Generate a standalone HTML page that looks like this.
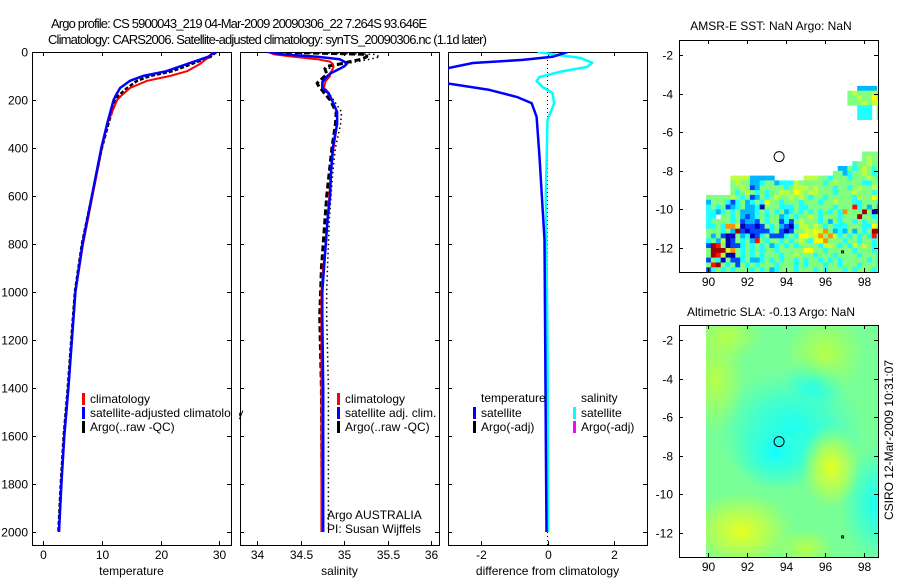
<!DOCTYPE html>
<html><head><meta charset="utf-8"><style>
html,body{margin:0;padding:0;background:#fff;}
svg{display:block;font-family:"Liberation Sans",sans-serif;}
text{font-size:12px;fill:#000;}
</style></head><body>
<svg id="fig" width="900" height="580" viewBox="0 0 900 580" xmlns="http://www.w3.org/2000/svg">
<defs>
<clipPath id="c1"><rect x="32" y="52" width="199" height="493"/></clipPath>
<clipPath id="c2"><rect x="240" y="52" width="199" height="493"/></clipPath>
<clipPath id="c3"><rect x="448" y="52" width="199" height="493"/></clipPath>
<clipPath id="cm1"><rect x="679" y="40" width="199" height="232"/></clipPath>
<clipPath id="cm2"><rect x="706" y="325" width="172" height="232"/></clipPath>
<radialGradient id="gCy"><stop offset="0" stop-color="#10ffff"/><stop offset="0.5" stop-color="#30ffe0" stop-opacity="0.7"/><stop offset="1" stop-color="#40ffd0" stop-opacity="0"/></radialGradient>
<radialGradient id="gYe"><stop offset="0" stop-color="#e8ff20"/><stop offset="0.5" stop-color="#c8ff40" stop-opacity="0.7"/><stop offset="1" stop-color="#b0ff50" stop-opacity="0"/></radialGradient>
<radialGradient id="gYg"><stop offset="0" stop-color="#b8ff48"/><stop offset="1" stop-color="#b0ff50" stop-opacity="0"/></radialGradient>
</defs>
<text x="51" y="28" textLength="376" style="font-size:13px">Argo profile: CS 5900043_219 04-Mar-2009 20090306_22 7.264S 93.646E</text>
<text x="48" y="44" textLength="439" style="font-size:13px">Climatology: CARS2006. Satellite-adjusted climatology: synTS_20090306.nc (1.1d later)</text>
<text x="771" y="30" text-anchor="middle">AMSR-E SST: NaN Argo: NaN</text>
<text x="771" y="316" text-anchor="middle">Altimetric SLA: -0.13 Argo: NaN</text>
<text transform="translate(893,440) rotate(-90)" text-anchor="middle">CSIRO 12-Mar-2009 10:31:07</text>
<g id="layer"></g>
</svg>
<script>
// ---------- data ----------
const depthTicks = [0,200,400,600,800,1000,1200,1400,1600,1800,2000];
const tempTicks = [0,10,20,30];
const salTicks = [34,34.5,35,35.5,36];
const diffTicks = [-2,0,2];
const lonTicks = [90,92,94,96,98];
const latTicks = [-2,-4,-6,-8,-10,-12];

const depthT = [0,20,50,80,100,120,150,180,200,300,400,600,800,1000,1200,1400,1600,1800,2000];
const tempClim = [28.8,28.3,26.7,24.5,21.6,17.7,14.8,13.4,12.6,10.9,10.0,8.4,6.8,5.5,4.9,4.3,3.6,3.1,2.7];
const tempSat = [29.3,28.1,24.5,21,17,14.8,13.1,12.4,12,10.9,9.9,8.3,6.7,5.5,4.9,4.3,3.6,3.1,2.7];
const tempArgo = [29.5,28.5,25.3,22,18.2,16,14.3,12.9,12.3,11.1,10.0,8.3,6.6,5.4,4.8,4.2,3.5,3.0,2.6];

const depthS = [0,10,20,30,40,50,60,70,90,100,120,130,150,160,170,200,250,300,400,500,600,700,800,900,1000,1100,1400,2000];
const salClim = [34.13,34.2,34.42,34.69,34.84,34.87,34.88,34.87,34.84,34.84,34.79,34.78,34.77,34.8,34.81,34.86,34.92,34.92,34.88,34.85,34.83,34.81,34.79,34.76,34.74,34.74,34.74,34.74];
const salSat = [34.13,34.3,34.69,34.95,35.0,35.03,35.0,34.95,34.84,34.81,34.76,34.75,34.75,34.78,34.82,34.86,34.92,34.92,34.87,34.85,34.84,34.81,34.79,34.77,34.75,34.75,34.76,34.76];
const salArgo = [34.23,35.26,35.26,35.2,35.07,34.95,34.8,34.78,34.8,34.78,34.72,34.69,34.72,34.75,34.77,34.84,34.91,34.9,34.86,34.83,34.8,34.78,34.76,34.74,34.73,34.72,34.74,34.75];
const salArgoRaw = [34.3,35.35,35.41,35.3,35.15,35.0,34.85,34.83,34.85,34.82,34.76,34.73,34.77,34.8,34.82,34.88,34.97,34.96,34.9,34.87,34.85,34.83,34.82,34.81,34.8,34.8,34.82,34.82];

const depthDT = [0,20,33,46,70,100,130,158,187,213,270,437,783,1200,1600,2000];
const diffTemp = [0.6,0.15,-0.75,-2.25,-3.1,-4.5,-3.05,-1.75,-0.93,-0.48,-0.33,-0.24,-0.09,-0.07,-0.05,-0.03];
const depthDS = [0,8,25,45,62,83,104,121,146,171,213,242,283,600,1200,2000];
const diffSal = [-0.3,0.1,1.0,1.35,1.2,0.36,-0.24,-0.33,-0.15,0.15,0.2,0.12,0.0,-0.05,0.0,0.02];

const sstRows = [
"                                gggg",
"                                gYgg",
"                              tggYgg",
"                           llgcgYgtg",
"                          gglcggYgcg",
"     YYYYlllll      YYYggcgggcgggYgc",
"     gYggllcgglcccYgggggcgYgggggccgg",
"     ggYgblgggggcgYYYgYgggcggcgYggYg",
"     gcgYgcgcggYYgyYgYYgggcgggYgggcg",
"gggggYgcgblgcgYggYgYgcggcgggggcYggyg",
"lgggcbcglcgcyggcgggcgggcggYgggccgggc",
"cgcgblcgllcngggcccgccgggggcgggrcglgl",
"cclcgcglllcgcgcglcgcgcgcgcgcogggdgnd",
"cc ggcglblcgcgglcgcggYgcgggcgggdggcg",
"cggggcgbllbgcggbcbgYgggcglgcggcgcggc",
"ccgcooYnbbnbgcglbncYYgYgcgcccgggccyc",
"gggcgldbnbbbbcgbnbggYYyYoglclglgcgdd",
"glgbnnglcnbcgbbbcgcyyYYogoYcgcgcgcrc",
"cglYnbgcglrgcggcgcgYgcyyogggcggcggcg",
"bdrgnbbcgcgcglcgcgcggggcYYgcgcYgYgcg",
"gdddYogcgcgcggcgggggyyggcgggggcgggcg",
"gdrYnngcgcgcgggcggYgggcgggcggggcgggc",
"bgcngbbcgllcgcgcggcgcggcgcgcgggggcgc",
"grdgcgbgcgcgggcgggcgcgggcggcgggcgggc",
"bcgcgcgggcgcglcgggcgggcgcgggcgcgggcg"];
const sstPatch = ["  llll ","gYgggYg","ggYggyg","gggYgYy","  ccc g","  ccc g","  ccc g"];
const palette = {g:"#80ff80",Y:"#c0ff40",y:"#ffff00",c:"#20ffff",t:"#40ffc0",l:"#00b8ff",b:"#0048ff",n:"#0000b0",o:"#ff9000",r:"#ff1000",d:"#a00000"};

// ---------- helpers ----------
const NS = "http://www.w3.org/2000/svg";
const layer = document.getElementById('layer');
function el(tag, attrs, parent){
  const e = document.createElementNS(NS, tag);
  for (const k in attrs) e.setAttribute(k, attrs[k]);
  (parent||layer).appendChild(e);
  return e;
}
function lin(d0,d1,r0,r1){ return v => r0 + (v-d0)*(r1-r0)/(d1-d0); }
const yDepth = lin(0,2000,52,532);

function panel(x0, name, xr, xTicks, xFmt, xlabel, showY){
  const w=199, top=52, bot=545;
  const xs = lin(xr[0], xr[1], x0, x0+w);
  const g = el('g', {});
  
  
  const fr = el('rect', {x:x0+0.5, y:top+0.5, width:w, height:bot-top, fill:'none', stroke:'#000', 'stroke-width':1}, g);
  
  
  xTicks.forEach(t => {
    const x = Math.round(xs(t))+0.5;
    el('line',{x1:x,x2:x,y1:bot,y2:bot-4,stroke:'#000'},g);
    el('line',{x1:x,x2:x,y1:top,y2:top+4,stroke:'#000'},g);
    const tl = el('text',{x:x,y:bot+14,'text-anchor':'middle'},g);
    tl.textContent = xFmt(t);
    
    
  });
  depthTicks.forEach(t => {
    const y = Math.round(yDepth(t))+0.5;
    el('line',{x1:x0,x2:x0+4,y1:y,y2:y,stroke:'#000'},g);
    el('line',{x1:x0+w,x2:x0+w-4,y1:y,y2:y,stroke:'#000'},g);
    if (showY){
      const tl = el('text',{x:x0-4,y:y+4,'text-anchor':'end'},g);
      tl.textContent = t;
      
      
    }
  });
  const xl = el('text',{x:x0+w/2,y:575,'text-anchor':'middle'},g);
  xl.textContent = xlabel;
  
  
  return xs;
}
function series(xs, depths, vals, clip, color, width, dash, name){
  const pts = depths.map((d,i)=> xs(vals[i]).toFixed(1)+','+yDepth(d).toFixed(1)).join(' ');
  const p = el('polyline',{points:pts, fill:'none', stroke:color, 'stroke-width':width, 'clip-path':'url(#'+clip+')', 'stroke-linejoin':'round'});
  if (dash) p.setAttribute('stroke-dasharray', dash);
  
  
}
function legendItem(x, y, color, label, name){
  const m = el('rect',{x:x, y:y-10, width:3, height:12, fill:color});
  
  
  if (label!==null){
    const t = el('text',{x:x+8, y:y});
    t.textContent = label;
    
    
  }
}
function txt(x,y,s,name){
  const t = el('text',{x:x,y:y});
  t.textContent = s;
  
  
}

// ---------- panel 1: temperature ----------
const xT = panel(32, 'temperature-panel', [-1.9,32], tempTicks, t=>t, 'temperature', true);
series(xT, depthT, tempArgo, 'c1', '#000', 2.5, '4,2', 'temp-argo-line');
series(xT, depthT, tempClim, 'c1', '#ff0000', 2, null, 'temp-climatology-line');
series(xT, depthT, tempSat, 'c1', '#0000ff', 2.5, null, 'temp-satellite-line');
legendItem(82, 403, '#ff0000', 'climatology', 'legend-climatology');
legendItem(82, 417, '#0000ff', 'satellite-adjusted climatology', 'legend-satellite-adjusted');
legendItem(82, 431, '#000000', 'Argo(..raw -QC)', 'legend-argo');
el('rect',{x:232,y:405,width:7,height:16,fill:'#fff'});

// ---------- panel 2: salinity ----------
const xS = panel(240, 'salinity-panel', [33.805,36.09], salTicks, t=>t, 'salinity', false);
series(xS, depthS, salArgoRaw, 'c2', '#000', 1.5, '1.5,3', 'sal-argo-raw-line');
series(xS, depthS, salArgo, 'c2', '#000', 3, '6,3', 'sal-argo-qc-line');
series(xS, depthS, salClim, 'c2', '#ff0000', 2, null, 'sal-climatology-line');
series(xS, depthS, salSat, 'c2', '#0000ff', 2.5, null, 'sal-satellite-line');
legendItem(337, 403, '#ff0000', 'climatology', 'legend-sal-climatology');
legendItem(337, 417, '#0000ff', 'satellite adj. clim.', 'legend-sal-satellite');
legendItem(337, 431, '#000000', 'Argo(..raw -QC)', 'legend-sal-argo');
txt(327, 519, 'Argo AUSTRALIA', 'argo-country-label');
txt(327, 533, 'PI: Susan Wijffels', 'pi-label');

// ---------- panel 3: difference ----------
const xD = panel(448, 'difference-panel', [-3,3], diffTicks, t=>t, 'difference from climatology', false);
const zl = el('line',{x1:xD(0),x2:xD(0),y1:52,y2:545,stroke:'#000','stroke-dasharray':'1,3'});


series(xD, depthDS, diffSal, 'c3', '#00ffff', 2.5, null, 'salinity-difference-line');
series(xD, depthDT, diffTemp, 'c3', '#0000ff', 2.5, null, 'temperature-difference-line');
txt(481, 402, 'temperature', 'legend-temperature-heading');
txt(581, 402, 'salinity', 'legend-salinity-heading');
legendItem(473, 417, '#0000ff', 'satellite', 'legend-temp-satellite');
legendItem(473, 431, '#000000', 'Argo(-adj)', 'legend-temp-argo');
legendItem(573, 417, '#00ffff', 'satellite', 'legend-sal-sat');
legendItem(573, 431, '#ff00ff', 'Argo(-adj)', 'legend-sal-argo-adj');

// ---------- maps ----------
function mapAxes(top, name){
  const left=679, w=199, h=232;
  const xs = lin(90,98,708,864);
  const ys = lin(-2,-12,top+15,top+208);
  const g = el('g',{});
  
  
  lonTicks.forEach(t=>{
    const x = Math.round(xs(t))+0.5;
    el('line',{x1:x,x2:x,y1:top+h,y2:top+h-4,stroke:'#000'},g);
    el('line',{x1:x,x2:x,y1:top,y2:top+4,stroke:'#000'},g);
    const tl = el('text',{x:x,y:top+h+14,'text-anchor':'middle'},g);
    tl.textContent = t;
    
    
  });
  latTicks.forEach(t=>{
    const y = Math.round(ys(t))+0.5;
    el('line',{x1:left,x2:left+4,y1:y,y2:y,stroke:'#000'},g);
    el('line',{x1:left+w,x2:left+w-4,y1:y,y2:y,stroke:'#000'},g);
    const tl = el('text',{x:left-6,y:y+4,'text-anchor':'end'},g);
    tl.textContent = t;
    
    
  });
  const fr = el('rect',{x:left+0.5,y:top+0.5,width:w,height:h,fill:'none',stroke:'#000'},g);
  
  
  return {xs, ys};
}
const m1x = lin(90,98,708,864), m1y = lin(-2,-12,55,248);
const sstG = el('g',{'clip-path':'url(#cm1)'});


function drawGrid(rows, lon0, lat0, step){
  rows.forEach((row, r)=>{
    for (let c=0;c<row.length;c++){
      const ch = row[c];
      if (!palette[ch]) continue;
      const x0 = m1x(lon0+c*step), x1 = m1x(lon0+(c+1)*step);
      const y0 = m1y(lat0-r*step), y1 = m1y(lat0-(r+1)*step);
      const cell = el('rect',{x:x0.toFixed(1),y:y0.toFixed(1),width:(x1-x0+0.4).toFixed(1),height:(y1-y0+0.4).toFixed(1),fill:palette[ch]}, sstG);
      
      
    }
  });
}
drawGrid(sstRows, 89.9, -7.0, 0.25);
drawGrid(sstPatch, 97.15, -3.6, 0.25);
mapAxes(40, 'sst-map');
const c1m = el('circle',{cx:m1x(93.646),cy:m1y(-7.264),r:5,fill:'none',stroke:'#000'});



const m2x = lin(90,98,708,864), m2y = lin(-2,-12,340,533);
const slaG = el('g',{'clip-path':'url(#cm2)'});


el('rect',{x:706,y:325,width:172,height:232,fill:'#78ff98'}, slaG);
const blobs = [
  [94.2,-6.6,75,60,'gCy'],[93.5,-7.8,45,40,'gCy'],[98.8,-10.5,40,60,'gCy'],[95.5,-4.2,30,30,'gCy'],
  [91.7,-11.9,55,40,'gYe'],[96.3,-8.6,30,42,'gYe'],[96.0,-2.7,40,40,'gYg'],[90.4,-4.0,30,55,'gYg'],[91.0,-1.8,35,25,'gYg'],[95.0,-12.8,30,20,'gYg']
];
blobs.forEach(b=>{
  const e = el('ellipse',{cx:m2x(b[0]),cy:m2y(b[1]),rx:b[2],ry:b[3],fill:'url(#'+b[4]+')'}, slaG);
  
  
});
mapAxes(325, 'sla-map');
const c2m = el('circle',{cx:m2x(93.646),cy:m2y(-7.264),r:5,fill:'none',stroke:'#000'});


el('rect',{x:m2x(96.85),y:m2y(-12.15),width:2,height:2,fill:'none',stroke:'#000','stroke-width':1});
el('rect',{x:m2x(96.85),y:m1y(-12.15),width:2,height:2,fill:'none',stroke:'#000','stroke-width':1});
</script>
</body></html>
